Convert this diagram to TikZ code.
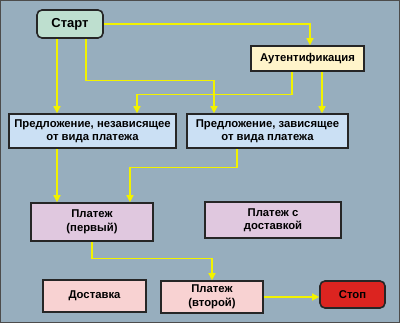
\documentclass[tikz,border=0pt]{standalone}
\usepackage{fontspec}
\setmainfont{Liberation Sans}
\usetikzlibrary{arrows.meta}

\definecolor{bgcol}{HTML}{97AEBE}
\definecolor{linecol}{HTML}{F2F200}
\definecolor{startcol}{HTML}{BEDFCF}
\definecolor{authcol}{HTML}{FFF4CA}
\definecolor{offercol}{HTML}{CBE0F4}
\definecolor{paycol}{HTML}{E0C8DF}
\definecolor{delivcol}{HTML}{F8D2D2}
\definecolor{stopcol}{HTML}{DC2420}

\begin{document}
\begin{tikzpicture}[
  x=1pt, y=-1pt,
  box/.style={draw=black!85, line width=1.6pt, align=center, inner sep=0pt,
    font=\bfseries\fontsize{11.3}{13.5}\selectfont},
  term/.style={box, rounded corners=5pt},
  arr/.style={draw=linecol, line width=1.4pt, -{Triangle[width=7pt,length=7pt,fill=linecol]}}
]
% background
\fill[bgcol] (0,0) rectangle (400,323);
\draw[black!70, line width=1pt] (0.5,0.5) rectangle (399.5,322.5);

\node[term, fill=startcol, minimum width=66pt, minimum height=28pt, font=\bfseries\fontsize{13}{15}\selectfont] (start) at (70,24) {Старт};
\node[box, fill=authcol, minimum width=113pt, minimum height=25pt] (auth) at (307.5,58.5) {Аутентификация};
\node[box, fill=offercol, minimum width=167pt, minimum height=34pt] (indep) at (92.5,131) {Предложение, независящее\\от вида платежа};
\node[box, fill=offercol, minimum width=161pt, minimum height=34pt] (dep) at (267.5,131) {Предложение, зависящее\\от вида платежа};
\node[box, fill=paycol, minimum width=122pt, minimum height=38pt] (payfirst) at (92,222) {Платеж\\(первый)};
\node[box, fill=paycol, minimum width=136pt, minimum height=36pt] (paydeliv) at (273,220) {Платеж с\\доставкой};
\node[box, fill=delivcol, minimum width=103pt, minimum height=32pt] (deliv) at (94.5,296) {Доставка};
\node[box, fill=delivcol, minimum width=102pt, minimum height=32pt] (paysecond) at (212,297) {Платеж\\(второй)};
\node[term, fill=stopcol, minimum width=65pt, minimum height=27pt] (stop) at (352.5,294.5) {Стоп};

% connectors
\draw[arr] (start.east) -| ([xshift=2.5pt]auth.north);
\draw[arr] ([xshift=-13pt]start.south) -- ([xshift=-13pt]start.south |- indep.north);
\draw[arr] ([xshift=16pt]start.south) |- ++(0,42) -| ([xshift=-53.5pt]dep.north);
\draw[arr] ([xshift=-15.5pt]auth.south) |- ++(0,22.5) -| ([xshift=44.5pt]indep.north);
\draw[arr] ([xshift=14.5pt]auth.south) -- ([xshift=14.5pt]auth.south |- dep.north);
\draw[arr] ([xshift=-35.5pt]indep.south) -- ([xshift=-35.5pt]indep.south |- payfirst.north);
\draw[arr] ([xshift=-30.5pt]dep.south) |- ++(0,19) -| ([xshift=38pt]payfirst.north);
\draw[arr] (payfirst.south) |- ++(0,17) -| (paysecond.north);
\draw[arr] (paysecond.east) -- (stop.west |- paysecond.east);
\end{tikzpicture}
\end{document}
